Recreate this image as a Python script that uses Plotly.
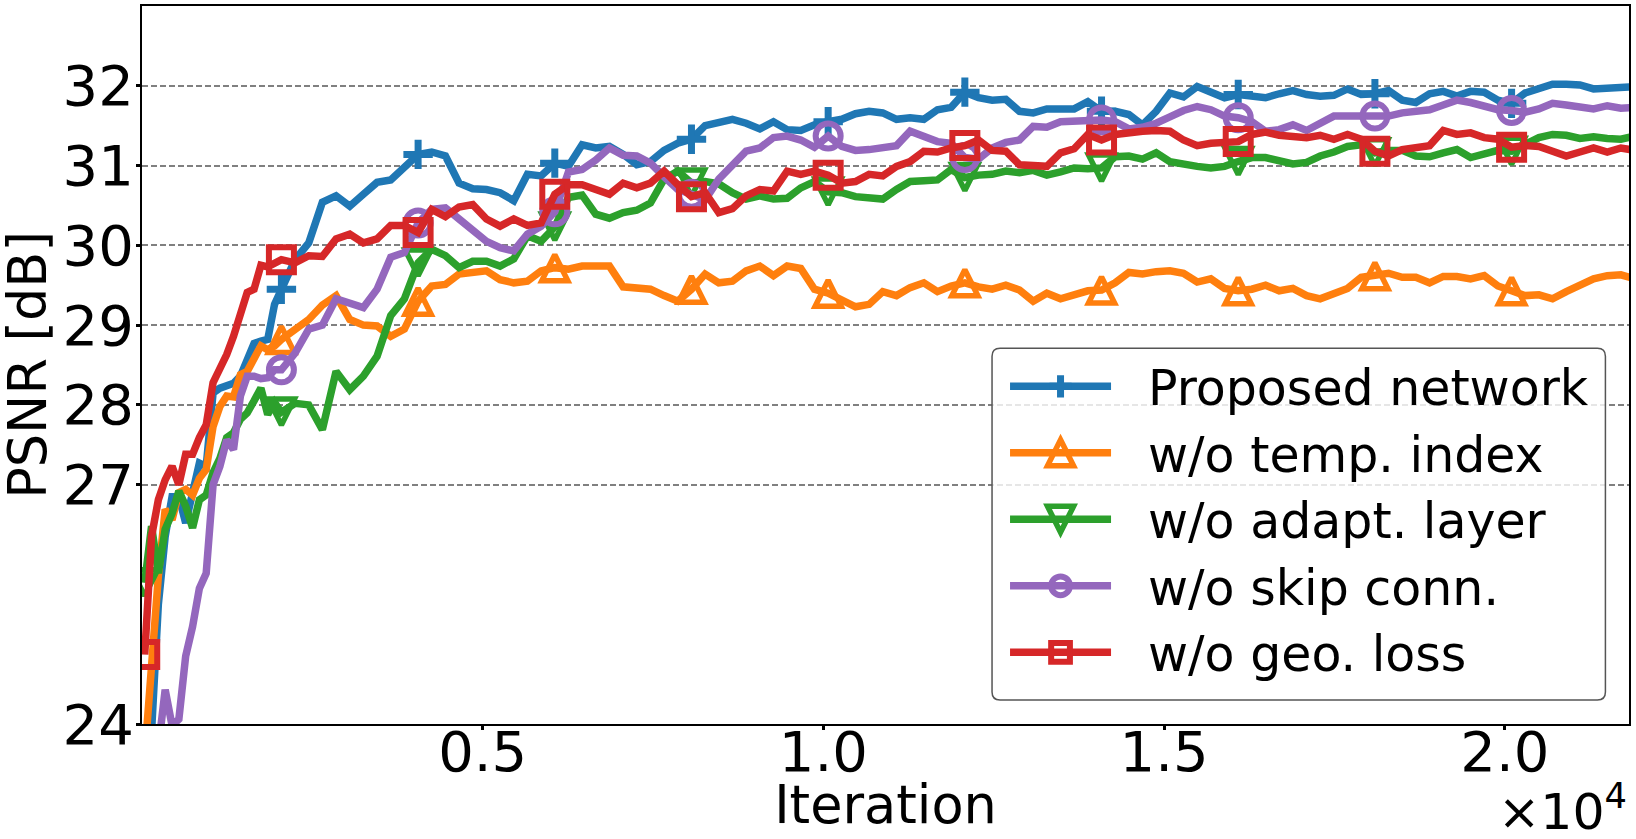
import plotly.graph_objects as go

# Iterations at which the curves are sampled (finer at the start)
ITER = [int(40 + 100.3 * i) for i in range(20)] + [int(2046 + 200.6 * c) for c in range(100)]
MARK_AT = [0, 20, 30, 40, 50, 60, 70, 80, 90, 100, 110]
SERIES_NAMES = ["Proposed network", "w/o temp. index", "w/o adapt. layer", "w/o skip conn.", "w/o geo. loss"]

proposed = [23.0,23.9,25.5,26.35,26.85,26.85,26.52,26.94,27.27,27.23,28.15,28.21,28.24,28.27,28.36,28.55,28.77,28.8,28.82,29.26,
29.45,29.82,30.03,30.54,30.62,30.49,30.64,30.79,
30.82,30.97,31.14,31.17,31.12,30.78,30.71,30.7,30.66,30.56,30.89,30.87,31.03,30.99,31.26,31.22,31.24,31.14,31.01,31.05,31.19,31.28,31.33,31.5,31.53,31.58,31.53,31.46,31.55,
31.45,31.44,31.51,31.55,31.58,31.65,31.68,31.66,31.58,31.6,31.58,31.7,31.73,31.92,31.85,31.82,31.83,31.68,31.66,31.71,31.72,31.71,31.8,31.68,31.68,31.64,31.51,31.68,
31.91,31.86,31.99,31.92,31.85,31.89,31.87,31.85,31.9,31.94,31.89,31.87,31.88,31.96,31.89,31.9,31.94,31.82,31.79,31.9,31.93,31.87,31.93,31.92,31.82,31.78,31.91,31.97,32.02,
32.02,32.01,31.96,31.97,31.99,31.99]

no_temp = [23.6,24.76,25.85,26.69,26.56,26.9,26.94,26.87,27.08,27.19,27.73,27.98,28.11,28.1,28.38,28.42,28.57,28.74,28.69,28.74,
28.82,28.95,29.07,29.25,29.37,29.07,29.0,28.99,
28.86,28.95,29.3,29.49,29.51,29.64,29.66,29.68,29.57,29.53,29.55,29.68,29.72,29.7,29.74,29.74,29.74,29.48,29.47,29.45,29.37,29.3,29.45,29.64,29.53,29.55,29.68,29.74,29.62,
29.74,29.71,29.45,29.4,29.31,29.23,29.26,29.42,29.37,29.47,29.53,29.42,29.49,29.53,29.48,29.45,29.5,29.44,29.3,29.4,29.33,29.39,29.43,29.44,29.53,29.66,29.64,29.67,
29.68,29.65,29.54,29.58,29.46,29.43,29.45,29.5,29.43,29.46,29.37,29.33,29.4,29.46,29.6,29.62,29.65,29.6,29.6,29.53,29.61,29.61,29.58,29.62,29.49,29.43,29.37,29.38,29.33,
29.42,29.51,29.58,29.62,29.63,29.58]

no_adapt = [25.77,26.48,25.89,26.44,26.64,26.92,26.73,26.46,26.81,26.87,27.15,27.33,27.59,27.65,27.82,27.9,28.05,28.21,27.88,28.03,
27.91,28.02,28.0,27.69,28.42,28.19,28.36,28.61,
29.12,29.33,29.78,29.95,29.87,29.72,29.8,29.8,29.74,29.83,30.12,30.05,30.23,30.6,30.63,30.39,30.34,30.41,30.44,30.53,30.83,30.93,30.78,30.8,30.77,30.66,30.58,30.62,30.58,
30.59,30.72,30.8,30.67,30.66,30.61,30.6,30.58,30.7,30.8,30.81,30.82,30.95,30.85,30.88,30.89,30.93,30.91,30.94,30.88,30.92,30.97,30.96,30.97,31.11,31.12,31.08,31.16,
31.05,31.01,30.99,30.97,30.99,31.05,31.1,31.1,31.07,31.02,31.04,31.12,31.17,31.24,31.26,31.16,31.19,31.19,31.12,31.11,31.16,31.2,31.1,31.14,31.19,31.18,31.26,31.35,31.39,
31.38,31.34,31.36,31.34,31.33,31.37]

no_skip = [23.0,23.0,23.7,24.43,23.98,24.06,24.85,25.22,25.7,25.89,27.0,27.23,27.56,27.44,28.11,28.36,28.36,28.33,28.34,28.44,
28.44,28.65,28.95,29.0,29.33,29.28,29.22,29.45,
29.85,29.91,30.28,30.45,30.47,30.33,30.2,30.05,29.97,29.93,30.14,30.24,30.42,30.92,30.95,31.07,31.22,31.13,31.12,31.03,30.86,30.7,30.64,30.57,30.83,31.01,31.18,31.22,31.35,
31.37,31.32,31.23,31.37,31.24,31.19,31.2,31.23,31.25,31.43,31.37,31.3,31.28,31.1,31.08,31.22,31.29,31.32,31.49,31.48,31.55,31.56,31.57,31.57,31.55,31.46,31.48,31.53,
31.61,31.69,31.74,31.7,31.62,31.6,31.55,31.43,31.45,31.51,31.44,31.53,31.62,31.62,31.62,31.62,31.62,31.66,31.67,31.7,31.76,31.82,31.79,31.74,31.7,31.69,31.67,31.71,31.78,
31.76,31.73,31.71,31.75,31.72,31.73]

no_geo = [24.87,26.35,26.81,27.06,27.23,27.0,27.38,27.38,27.59,27.75,28.28,28.44,28.63,28.86,29.15,29.41,29.45,29.75,29.73,29.78,
29.82,29.78,29.87,29.86,30.08,30.14,30.03,30.08,
30.25,30.25,30.16,30.45,30.36,30.48,30.51,30.33,30.24,30.33,30.25,30.28,30.64,30.76,30.76,30.7,30.64,30.78,30.72,30.78,30.93,30.76,30.61,30.66,30.41,30.46,30.62,30.7,30.68,
30.93,30.89,30.93,30.88,30.78,30.8,30.89,30.87,30.99,31.05,31.18,31.17,31.22,31.25,31.32,31.19,31.18,31.01,31.0,30.99,31.16,31.21,31.39,31.32,31.39,31.42,31.43,31.44,
31.43,31.32,31.25,31.28,31.28,31.3,31.39,31.42,31.38,31.37,31.35,31.38,31.33,31.39,31.33,31.18,31.12,31.2,31.22,31.25,31.44,31.39,31.41,31.35,31.33,31.23,31.25,31.24,31.18,
31.12,31.17,31.22,31.17,31.22,31.19]

Y_TICKS = [24, 27, 28, 29, 30, 31, 32]
X_TICKS = [5000, 10000, 15000, 20000]
X_LABELS = ["0.5", "1.0", "1.5", "2.0"]
COLORS = ["#1f77b4", "#ff7f0e", "#2ca02c", "#9467bd", "#d62728"]
SYMBOLS = ["cross-thin-open", "triangle-up-open", "triangle-down-open", "circle-open", "square-open"]
SIZES = [21, 27, 27, 25, 25]
MLWS = [7, 5.5, 5.5, 6, 6]
ALL = [proposed, no_temp, no_adapt, no_skip, no_geo]

FONT = "DejaVu Sans"
L, R, T, B = 141.5, 1629.3, 6.0, 724.0
W, H = 1636, 839
LW = 7.5

fig = go.Figure()
for name, vals, col, sym, sz, mlw in zip(SERIES_NAMES, ALL, COLORS, SYMBOLS, SIZES, MLWS):
    assert len(vals) == len(ITER), (name, len(vals))
    fig.add_trace(go.Scatter(
        x=ITER, y=vals, name=name, mode="lines+markers",
        line=dict(color=col, width=LW),
        marker=dict(symbol=sym, color=col, opacity=1,
                    size=[sz if i in MARK_AT else 0 for i in range(len(ITER))],
                    line=dict(color=col, width=mlw)),
    ))

def px(x): return (x - L) / (R - L)
def py(y): return (B - y) / (B - T)
x0, x1, y0, y1, r = 992, 1605.7, 348.3, 700, 8
box = (f"M{px(x0+r)},{py(y0)} L{px(x1-r)},{py(y0)} Q{px(x1)},{py(y0)} {px(x1)},{py(y0+r)} "
       f"L{px(x1)},{py(y1-r)} Q{px(x1)},{py(y1)} {px(x1-r)},{py(y1)} "
       f"L{px(x0+r)},{py(y1)} Q{px(x0)},{py(y1)} {px(x0)},{py(y1-r)} "
       f"L{px(x0)},{py(y0+r)} Q{px(x0)},{py(y0)} {px(x0+r)},{py(y0)} Z")

axis_common = dict(showline=True, linecolor="black", linewidth=2, mirror=True,
                   ticks="outside", ticklen=4, tickwidth=2.5, tickcolor="black", automargin=False,
                   zeroline=False, tickfont=dict(family=FONT, size=56, color="black"))

fig.update_layout(
    width=W, height=H, paper_bgcolor="white", plot_bgcolor="white",
    margin=dict(l=L, r=W - R, t=T, b=H - B, pad=0, autoexpand=False),
    font=dict(family=FONT, color="black"),
    xaxis=dict(range=[0, 21823], tickvals=X_TICKS, ticktext=X_LABELS, showgrid=False,
               ticklabelstandoff=-26,
               title=dict(text="Iteration", font=dict(family=FONT, size=52.5)), **axis_common),
    yaxis=dict(range=[24, 33], tickvals=Y_TICKS, showgrid=True, gridcolor="#808080",
               griddash="6px,3px", gridwidth=1.5, ticklabelstandoff=-9,
               title=dict(text="PSNR [dB]", font=dict(family=FONT, size=52.5)), **axis_common),
    legend=dict(x=px(1005), y=py(348), xanchor="left", yanchor="top", bgcolor="rgba(0,0,0,0)",
                borderwidth=0, itemwidth=101, itemsizing="constant",
                font=dict(family=FONT, size=49, color="black")),
    shapes=[dict(type="path", path=box, xref="paper", yref="paper", layer="above",
                 fillcolor="rgba(255,255,255,0.8)", line=dict(color="#555555", width=1.5))],
    annotations=[dict(text="×10<sup>4</sup>", xref="paper", yref="paper", x=1.0, y=py(839),
                      xanchor="right", yanchor="bottom", yshift=-4, showarrow=False,
                      font=dict(family=FONT, size=50.5, color="black"))],
)

POST = """
document.body.style.margin = '0';
var gd = document.getElementById('{plot_id}');
var sizes = %s, mlws = %s, rowH = 66.5, textShift = 32, lw = %s;
var TRI = {1: 'M0,-13L13,13H-13Z', 2: 'M0,13L13,-13H-13Z'};
// data markers: isosceles triangles centred on their point
gd.querySelectorAll('.scatterlayer .trace').forEach(function (tr, i) {
    if (!TRI[i]) return;
    tr.querySelectorAll('.points path').forEach(function (p) {
        if (p.getBBox().width > 1) p.setAttribute('d', TRI[i]);
    });
});
var sb = gd.querySelector('.legend .scrollbox');
if (sb) sb.removeAttribute('clip-path');
var rows = gd.querySelectorAll('.legend .traces');
var y0 = null;
rows.forEach(function (row, i) {
    var m = /translate\\(([^,]+),\\s*([^)]+)\\)/.exec(row.getAttribute('transform'));
    if (y0 === null) y0 = parseFloat(m[2]);
    row.setAttribute('transform', 'translate(' + m[1] + ',' + (y0 + i * rowH) + ')');
    row.querySelectorAll('.legendlines path').forEach(function (p) { p.style.strokeWidth = lw + 'px'; });
    row.querySelectorAll('.legendpoints path').forEach(function (p) {
        if (TRI[i]) {
            p.setAttribute('d', TRI[i]);
            p.style.strokeWidth = mlws[i] + 'px';
        } else {
            var k = sizes[i] / 16;
            p.setAttribute('transform', (p.getAttribute('transform') || '') + ' scale(' + k + ')');
            p.style.strokeWidth = (mlws[i] / k) + 'px';
        }
    });
    var t = row.querySelector('.legendtext');
    t.setAttribute('x', parseFloat(t.getAttribute('x')) + textShift);
});
var xt = gd.querySelector('.xtitle');
xt.setAttribute('y', 831);
var yt = gd.querySelector('.ytitle');
yt.setAttribute('transform', 'translate(-3,0) ' + (yt.getAttribute('transform') || ''));
""" % (SIZES, MLWS, LW)

fig.write_html("out.html", post_script=POST, config=dict(displayModeBar=False))
